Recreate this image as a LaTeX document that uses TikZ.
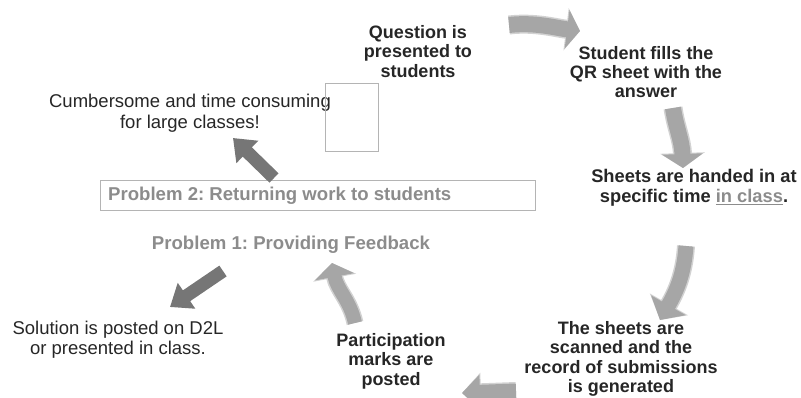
\documentclass[tikz,border=0pt]{standalone}
\usepackage{fontspec}
\setmainfont{Liberation Sans}
\usetikzlibrary{arrows.meta}
\frenchspacing
\definecolor{txt}{HTML}{262626}
\definecolor{txtgray}{HTML}{8C8C8C}
\definecolor{boxgray}{HTML}{B4B4B4}
\definecolor{arrdark}{HTML}{767676}
\definecolor{arrlight}{HTML}{A6A6A6}
\definecolor{arrhalo}{HTML}{D2D2D2}
\tikzset{
  boldtxt/.style={align=center, text=txt, inner sep=0pt, font=\bfseries\fontsize{18}{19.3}\selectfont},
  plaintxt/.style={align=center, text=txt, inner sep=0pt, font=\fontsize{18.5}{21}\selectfont},
  probtxt/.style={text=txtgray, inner sep=0pt, font=\bfseries\fontsize{18.6}{20}\selectfont},
  darkarrow/.style={draw=arrdark, line width=13pt, -{Triangle[width=30pt,length=20pt]}},
  lightarrow/.style={draw=arrlight},
}
\begin{document}
\begin{tikzpicture}[x=1pt,y=-1pt]
\useasboundingbox (0,0) rectangle (801,398);
% text nodes
\node[boldtxt] (q) at (418,51.5) {Question is\\presented to\\students};
\node[boldtxt] (fill) at (646,72) {Student fills the\\QR sheet with the\\answer};
\node[plaintxt] (cumb) at (190,113.5) {Cumbersome and time consuming\\for large classes!};
\node[draw=boxgray, line width=0.8pt, minimum width=53pt, minimum height=68pt, inner sep=0pt] (empty) at (351.5,117) {};
\node[draw=boxgray, line width=0.8pt, minimum width=435pt, minimum height=30pt, inner sep=0pt] (p2box) at (317.5,195) {};
\node[probtxt, anchor=west] (p2) at (108,196) {Problem 2: Returning work to students};
\node[boldtxt, font=\bfseries\fontsize{18.3}{20}\selectfont] (hand) at (694,188) {Sheets are handed in at\\specific time {\color{txtgray}\underline{in class}}.};
\node[probtxt] (p1) at (291,245) {Problem 1: Providing Feedback};
\node[plaintxt, font=\fontsize{18.5}{20}\selectfont] (sol) at (118,340) {Solution is posted on D2L\\or presented in class.};
\node[boldtxt, font=\bfseries\fontsize{18}{19.5}\selectfont] (part) at (391,361) {Participation\\marks are\\posted};
\node[boldtxt] (scan) at (621,359) {The sheets are\\scanned and the\\record of submissions\\is generated};
% arrow end points
\coordinate (a1s) at (509,25);   \coordinate (a1e) at (580,31);
\coordinate (a2s) at (673,108);  \coordinate (a2e) at (683,168);
\coordinate (a3s) at (686,246);  \coordinate (a3e) at (660,320);
\coordinate (a4s) at (516,391);  \coordinate (a4e) at (462,393);
\coordinate (a5s) at (355,323);  \coordinate (a5e) at (332,263);
\coordinate (d1s) at (274,178);  \coordinate (d1e) at (233,138);
\coordinate (d2s) at (223,271);  \coordinate (d2e) at (170,307);
% light arrows (cycle)
\draw[lightarrow, line width=16pt, -{Triangle[width=38pt,length=13pt]},
  preaction={draw=arrhalo, line width=19pt, -{Triangle[width=42pt,length=14pt]}}]
  (a1s) .. controls (535,22) and (556,28) .. (a1e);
\draw[lightarrow, line width=16pt, -{Triangle[width=40pt,length=14pt]},
  preaction={draw=arrhalo, line width=19pt, -{Triangle[width=44pt,length=15pt]}}]
  (a2s) .. controls (676,128) and (682,140) .. (a2e);
\draw[lightarrow, line width=15pt, -{Triangle[width=39pt,length=17pt]},
  preaction={draw=arrhalo, line width=18pt, -{Triangle[width=43pt,length=18pt]}}]
  (a3s) .. controls (684,275) and (676,292) .. (a3e);
\draw[lightarrow, line width=15pt, -{Triangle[width=34pt,length=18pt]},
  preaction={draw=arrhalo, line width=18pt, -{Triangle[width=38pt,length=19pt]}}]
  (a4s) -- (a4e);
\draw[lightarrow, line width=14pt, -{Triangle[width=39pt,length=14pt]},
  preaction={draw=arrhalo, line width=17pt, -{Triangle[width=43pt,length=15pt]}}]
  (a5s) .. controls (350,300) and (337,290) .. (a5e);
% dark arrows
\draw[darkarrow] (d1s) -- (d1e);
\draw[darkarrow] (d2s) -- (d2e);
\end{tikzpicture}
\end{document}
